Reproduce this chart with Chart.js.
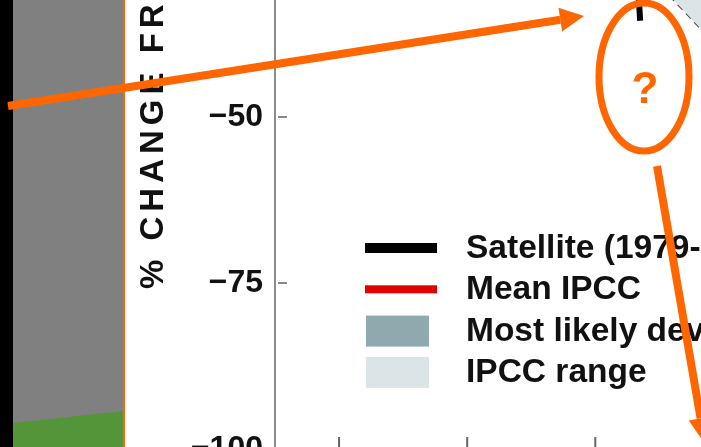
<!DOCTYPE html>
<html>
<head>
<meta charset="utf-8">
<script src="https://cdn.jsdelivr.net/npm/chart.js@4"></script>
<style>
  html, body { margin: 0; padding: 0; background: #fff; overflow: hidden; }
  #wrap { width: 701px; height: 447px; overflow: hidden; position: relative; }
</style>
</head>
<body>
<div id="wrap"><canvas id="ice-chart" width="701" height="449"></canvas></div>
<script>
// September sea ice, % change from the 1979-2000 mean
const satYears = [1979, 1980, 1981, 1982, 1983, 1984, 1985, 1986, 1987, 1988, 1989, 1990, 1991, 1992, 1993,
                  1994, 1995, 1996, 1997, 1998, 1999, 2000, 2001, 2002, 2003, 2004, 2005, 2006, 2007];
const satValues = [9, 10, 3, 7, 8, 2, 2, 9, 7, 9, 3, -7, -1, 11, -4,
                   6, -11, 12, 2, -9, -11, -6, -3, -15, -13, -13, -21, -19, -35.5];

const ipccYears = [1950, 1960, 1970, 1980, 1990, 2000, 2010, 2020, 2030, 2040, 2050];
const ipccMean = [8, 7, 5, 2, -1, -4, -9, -15, -22, -30, -38];
const likelyUpper = [16, 15, 13, 10, 8, 5, 1, -5, -12, -19, -27];
const likelyLower = [0, -1, -3, -6, -10, -14, -19, -25, -32, -41, -49];
const rangeUpper = [26, 25, 23, 21, 19, 16, 12, 7, 1, -5, -12];
const rangeLower = [-6, -7, -9, -12, -15, -20, -30.1, -40.3, -52, -63, -75];

const xTickYears = [1960, 1980, 2000];
const yTickStep = 25;

const legendLabels = ['Satellite (1979-2007)', 'Mean IPCC', 'Most likely deviation', 'IPCC range'];

const pairs = (xs, ys) => xs.map((x, i) => ({x: x, y: ys[i]}));

// grey slide panel on the left
const slidePanel = {
  id: 'slidePanel',
  beforeDraw(chart) {
    const ctx = chart.ctx;
    const h = chart.height;
    ctx.save();
    ctx.fillStyle = '#000';
    ctx.fillRect(0, 0, 13, h);
    ctx.fillStyle = '#808080';
    ctx.fillRect(13, 0, 110, h);
    ctx.fillStyle = '#55953a';
    ctx.beginPath();
    ctx.moveTo(13, 423); ctx.lineTo(123, 411); ctx.lineTo(123, h); ctx.lineTo(13, h);
    ctx.closePath();
    ctx.fill();
    ctx.fillStyle = '#ff6600';
    ctx.fillRect(123, 0, 2, h);
    ctx.restore();
  }
};

// inward tick marks + rotated axis title
const axisExtras = {
  id: 'axisExtras',
  afterDraw(chart) {
    const {ctx, chartArea, scales} = chart;
    ctx.save();
    ctx.strokeStyle = '#8a8a8a';
    ctx.lineWidth = 2;
    scales.y.ticks.forEach(t => {
      const y = scales.y.getPixelForValue(t.value);
      ctx.beginPath(); ctx.moveTo(chartArea.left + 3, y); ctx.lineTo(chartArea.left + 12, y); ctx.stroke();
    });
    ctx.strokeStyle = '#666';
    xTickYears.forEach(v => {
      const x = scales.x.getPixelForValue(v);
      ctx.beginPath(); ctx.moveTo(x, chartArea.bottom - 12); ctx.lineTo(x, chartArea.bottom - 2); ctx.stroke();
    });

    ctx.translate(163, 289);
    ctx.rotate(-Math.PI / 2);
    ctx.font = 'bold 33px "Liberation Sans", Arial, sans-serif';
    ctx.letterSpacing = '5px';
    ctx.fillStyle = '#111';
    ctx.textAlign = 'left';
    ctx.textBaseline = 'alphabetic';
    ctx.fillText('% CHANGE FROM 1979-2000', 0, 0);
    ctx.restore();
  }
};

// legend in the lower left of the plot
const plotLegend = {
  id: 'plotLegend',
  afterDraw(chart) {
    const {ctx, chartArea} = chart;
    const ds = chart.data.datasets;
    const x0 = chartArea.left + 90;
    const base0 = chartArea.bottom - 191;
    const swatches = [
      {kind: 'line', color: ds[0].borderColor, w: 10},
      {kind: 'line', color: ds[1].borderColor, w: 8},
      {kind: 'box', color: ds[2].backgroundColor},
      {kind: 'box', color: ds[4].backgroundColor}
    ];
    ctx.save();
    ctx.font = 'bold 33.5px "Liberation Sans", Arial, sans-serif';
    ctx.textBaseline = 'alphabetic';
    ctx.textAlign = 'left';
    legendLabels.forEach((label, i) => {
      const base = base0 + i * 41.3;
      const mid = base - 10;
      const s = swatches[i];
      if (s.kind === 'line') {
        ctx.fillStyle = s.color;
        ctx.fillRect(x0, mid - s.w / 2, 72, s.w);
      } else {
        ctx.fillStyle = s.color;
        ctx.fillRect(x0 + 1, mid - 15, 63, 31);
      }
      ctx.fillStyle = '#111';
      ctx.fillText(label, x0 + 101, base);
    });
    ctx.restore();
  }
};

function drawArrow(ctx, x1, y1, x2, y2, width, head, half) {
  const a = Math.atan2(y2 - y1, x2 - x1);
  const bx = x2 - head * Math.cos(a);
  const by = y2 - head * Math.sin(a);
  ctx.lineWidth = width;
  ctx.beginPath(); ctx.moveTo(x1, y1); ctx.lineTo(bx, by); ctx.stroke();
  ctx.beginPath();
  ctx.moveTo(x2, y2);
  ctx.lineTo(bx + half * Math.sin(a), by - half * Math.cos(a));
  ctx.lineTo(bx - half * Math.sin(a), by + half * Math.cos(a));
  ctx.closePath();
  ctx.fill();
}

// orange annotations on top of everything
const annotations = {
  id: 'annotations',
  afterDraw(chart) {
    const ctx = chart.ctx;
    ctx.save();
    ctx.strokeStyle = '#ff6600';
    ctx.fillStyle = '#ff6600';
    drawArrow(ctx, 8, 106, 584, 16, 8, 24, 12);
    drawArrow(ctx, 657, 166, 705, 444, 8, 26, 12);
    ctx.lineWidth = 7;
    ctx.beginPath();
    ctx.ellipse(644, 77, 45, 74, 0, 0, Math.PI * 2);
    ctx.stroke();
    ctx.font = 'bold 44px "Liberation Sans", Arial, sans-serif';
    ctx.textAlign = 'center';
    ctx.textBaseline = 'alphabetic';
    ctx.fillText('?', 645, 103);
    ctx.restore();
  }
};

const ctx_ice = document.getElementById('ice-chart').getContext('2d');

const ice_chart = new Chart(ctx_ice, {
  type: 'line',
  data: {
    datasets: [
      {
        label: legendLabels[0],
        data: pairs(satYears, satValues),
        borderColor: '#000',
        borderWidth: 6,
        fill: false
      },
      {
        label: legendLabels[1],
        data: pairs(ipccYears, ipccMean),
        borderColor: '#e00000',
        borderWidth: 4,
        fill: false
      },
      {
        label: legendLabels[2],
        data: pairs(ipccYears, likelyUpper),
        borderColor: 'transparent',
        borderWidth: 0,
        backgroundColor: '#8fa9ae',
        fill: '+1'
      },
      {
        label: 'likely lower',
        data: pairs(ipccYears, likelyLower),
        borderColor: 'transparent',
        borderWidth: 0,
        fill: false
      },
      {
        label: legendLabels[3],
        data: pairs(ipccYears, rangeUpper),
        borderColor: '#444',
        borderWidth: 2,
        borderDash: [7, 5],
        backgroundColor: '#dbe5e7',
        fill: '+1'
      },
      {
        label: 'range lower',
        data: pairs(ipccYears, rangeLower),
        borderColor: '#444',
        borderWidth: 2,
        borderDash: [7, 5],
        fill: false
      }
    ]
  },
  options: {
    responsive: false,
    animation: false,
    layout: { padding: { left: 125, top: 0, right: 0, bottom: 0 } },
    elements: { point: { radius: 0 }, line: { tension: 0 } },
    scales: {
      x: {
        type: 'linear',
        display: false,
        min: 1950,
        max: 2016.5
      },
      y: {
        min: -100,
        max: -32.38,
        grid: { display: false },
        border: { display: true, color: '#8a8a8a', width: 2 },
        ticks: {
          stepSize: yTickStep,
          includeBounds: false,
          padding: 4,
          color: '#111',
          font: { family: '"Liberation Sans", Arial, sans-serif', size: 32, weight: 'bold' },
          callback: v => '\u2212' + Math.abs(v)
        },
        afterFit: scale => {
          scale.width = 150;
          scale.paddingTop = 0;
          scale.paddingBottom = 0;
        }
      }
    },
    plugins: {
      legend: { display: false },
      tooltip: { enabled: false }
    }
  },
  plugins: [slidePanel, axisExtras, plotLegend, annotations]
});
</script>
</body>
</html>
